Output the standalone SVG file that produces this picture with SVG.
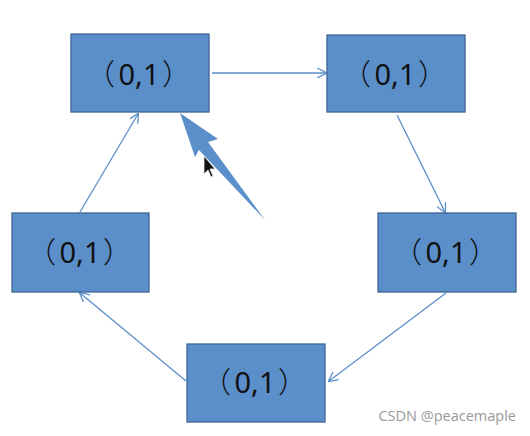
<svg xmlns="http://www.w3.org/2000/svg" width="530" height="436" viewBox="0 0 530 436">
<style>
.box{fill:#5b8fca;stroke:#3e6594;stroke-width:1.3}
.lbl{font-family:"Noto Sans","Noto Sans CJK SC",sans-serif;font-size:29px;fill:#111;text-anchor:middle}
.par{font-family:"Noto Sans CJK SC",sans-serif;font-size:29px;fill:#111;text-anchor:start;font-weight:300}
.con{stroke:#5b8fca;stroke-width:1.3;fill:none;marker-end:url(#ah)}
</style>
<defs>
<marker id="ah" viewBox="0 0 10 10" refX="9" refY="5" markerWidth="10" markerHeight="10" markerUnits="userSpaceOnUse" orient="auto">
<path d="M0,0 L10,5 L0,10" fill="none" stroke="#5b8fca" stroke-width="1.3"/>
</marker>
</defs>
<rect width="530" height="436" fill="#fff"/>
<g id="connectors">
<line class="con" x1="212" y1="73" x2="326" y2="73"/>
<line class="con" x1="397" y1="115" x2="445" y2="212"/>
<line class="con" x1="446" y1="293" x2="329" y2="381"/>
<line class="con" x1="186" y1="381" x2="80" y2="293"/>
<line class="con" x1="80" y1="212" x2="138" y2="114"/>
</g>
<g id="node1"><rect class="box" x="71" y="34" width="138" height="78"/><text y="85"><tspan class="par" x="86">（</tspan><tspan class="lbl" x="139">0,1</tspan><tspan class="par" x="162">）</tspan></text></g>
<g id="node2"><rect class="box" x="327" y="35" width="138" height="77"/><text y="85"><tspan class="par" x="342">（</tspan><tspan class="lbl" x="395">0,1</tspan><tspan class="par" x="418">）</tspan></text></g>
<g id="node3"><rect class="box" x="12" y="213" width="137" height="79"/><text y="263"><tspan class="par" x="27">（</tspan><tspan class="lbl" x="80">0,1</tspan><tspan class="par" x="103">）</tspan></text></g>
<g id="node4"><rect class="box" x="378" y="213" width="138" height="79"/><text y="263"><tspan class="par" x="393">（</tspan><tspan class="lbl" x="446">0,1</tspan><tspan class="par" x="469">）</tspan></text></g>
<g id="node5"><rect class="box" x="187" y="344" width="138" height="78"/><text y="393"><tspan class="par" x="202">（</tspan><tspan class="lbl" x="255">0,1</tspan><tspan class="par" x="278">）</tspan></text></g>
<g id="bigarrow">
<polygon points="180,113 218,139 208,142 265,220 199,150 195,157" fill="#5b8fca"/>
</g>
<g id="cursor">
<polygon points="204,156 204,174 208,170 211,177 213,176 210,169 215,169" fill="#111" stroke="#eee" stroke-width="0.8"/>
</g>
<text x="516" y="421" font-family="Open Sans,sans-serif" font-size="14.5" fill="#999" text-anchor="end">CSDN @peacemaple</text>
</svg>
